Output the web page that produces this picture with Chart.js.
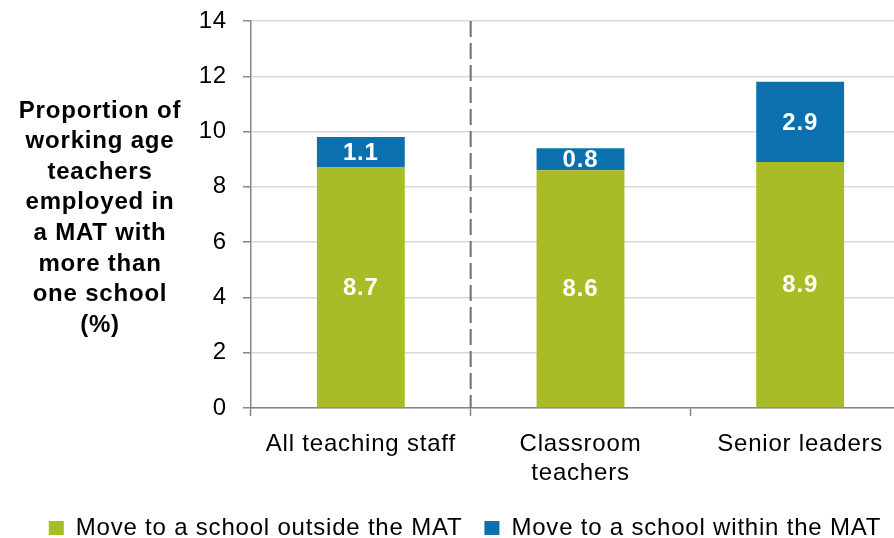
<!DOCTYPE html>
<html>
<head>
<meta charset="utf-8">
<script src="https://cdn.jsdelivr.net/npm/chart.js@4.4.1/dist/chart.umd.min.js"></script>
<style>
  html, body { margin: 0; padding: 0; background: #fff; overflow: hidden; }
  #wrap { width: 910px; height: 538px; }
</style>
</head>
<body>
<div id="wrap"><canvas id="chart" width="910" height="538"></canvas></div>
<script>
const categories = ["All teaching staff", ["Classroom", "teachers"], "Senior leaders"];
const outsideMat = [8.7, 8.6, 8.9];
const withinMat = [1.1, 0.8, 2.9];
const seriesNames = ["Move to a school outside the MAT", "Move to a school within the MAT"];
const yTicks = [0, 2, 4, 6, 8, 10, 12, 14];
const yTitleLines = ["Proportion of", "working age", "teachers", "employed in", "a MAT with", "more than", "one school", "(%)"];

const green = "#a9bb26";
const blue = "#0b70ad";
const font = "'Liberation Sans', Arial, sans-serif";

// the original text is set a little loose, so widen letters a touch
const spacing = {
  id: "spacing",
  beforeLayout(chart) { chart.ctx.letterSpacing = "0.8px"; },
  beforeDraw(chart) { chart.ctx.letterSpacing = "0.8px"; }
};

// y axis title, horizontal and stacked like the original
const yTitle = {
  id: "yTitle",
  afterDraw(chart) {
    const ctx = chart.ctx;
    ctx.save();
    ctx.fillStyle = "#000";
    ctx.font = "bold 24px " + font;
    ctx.textAlign = "center";
    ctx.textBaseline = "middle";
    yTitleLines.forEach((line, i) => ctx.fillText(line, 100, 111 + i * 30.6));
    ctx.restore();
  }
};

// dashed divider between first and second group
const divider = {
  id: "divider",
  beforeDatasetsDraw(chart) {
    const x = chart.scales.x;
    const area = chart.chartArea;
    const px = (x.getPixelForValue(0) + x.getPixelForValue(1)) / 2;
    const ctx = chart.ctx;
    ctx.save();
    ctx.strokeStyle = "#6e6e6e";
    ctx.lineWidth = 2;
    ctx.setLineDash([16, 6]);
    ctx.beginPath();
    ctx.moveTo(px, area.top);
    ctx.lineTo(px, area.bottom);
    ctx.stroke();
    ctx.restore();
  }
};

// white value labels in the middle of each segment
const segLabels = {
  id: "segLabels",
  afterDatasetsDraw(chart) {
    const ctx = chart.ctx;
    ctx.save();
    ctx.fillStyle = "#fff";
    ctx.font = "bold 24px " + font;
    ctx.textAlign = "center";
    ctx.textBaseline = "middle";
    chart.data.datasets.forEach((ds, i) => {
      chart.getDatasetMeta(i).data.forEach((bar, j) => {
        ctx.fillText(ds.data[j].toFixed(1), bar.x, (bar.y + bar.base) / 2 + 1);
      });
    });
    ctx.restore();
  }
};

new Chart(document.getElementById("chart"), {
  type: "bar",
  data: {
    labels: categories,
    datasets: [
      { label: seriesNames[0], data: outsideMat, backgroundColor: green },
      { label: seriesNames[1], data: withinMat, backgroundColor: blue }
    ]
  },
  options: {
    responsive: false,
    animation: false,
    datasets: { bar: { categoryPercentage: 1, barPercentage: 0.4 } },
    layout: { padding: { top: 21, left: 20, right: 0, bottom: -12 } },
    plugins: {
      legend: {
        position: "bottom",
        labels: {
          color: "#000",
          font: { family: font, size: 24 },
          boxWidth: 15,
          boxHeight: 14,
          padding: 22
        }
      },
      tooltip: { enabled: false }
    },
    scales: {
      x: {
        stacked: true,
        afterFit: (s) => { s.height = 86; },
        grid: {
          offset: true,
          drawOnChartArea: false,
          drawTicks: true,
          tickLength: 8,
          tickColor: "#868686",
          tickWidth: 1.5
        },
        border: { color: "#868686", width: 1.5 },
        ticks: {
          color: "#000",
          font: { family: font, size: 24 },
          padding: 14,
          maxRotation: 0
        }
      },
      y: {
        stacked: true,
        min: 0,
        max: 14,
        afterFit: (s) => { s.width = 231; s.paddingTop = 0; s.paddingBottom = 0; },
        afterBuildTicks: (s) => { s.ticks = yTicks.map(v => ({ value: v })); },
        grid: {
          color: "#d9d9d9",
          lineWidth: 1.5,
          tickLength: 8,
          tickColor: "#868686",
          tickWidth: 1.5
        },
        border: { color: "#868686", width: 1.5 },
        ticks: {
          color: "#000",
          font: { family: font, size: 24 },
          padding: 16
        }
      }
    }
  },
  plugins: [spacing, yTitle, divider, segLabels]
});
</script>
</body>
</html>
